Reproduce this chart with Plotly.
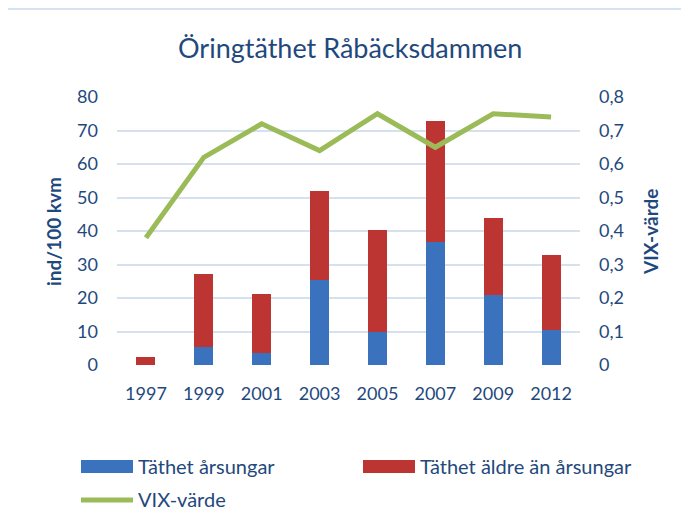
import plotly.graph_objects as go

years = ["1997", "1999", "2001", "2003", "2005", "2007", "2009", "2012"]
arsungar = [0.0, 5.5, 3.7, 25.5, 9.9, 36.8, 21.0, 10.5]
aldre = [2.5, 21.8, 17.6, 26.5, 30.5, 36.1, 23.0, 22.4]
vix = [0.38, 0.62, 0.72, 0.64, 0.75, 0.65, 0.75, 0.74]
left_ticks = [0, 10, 20, 30, 40, 50, 60, 70, 80]
right_ticks = [0, 0.1, 0.2, 0.3, 0.4, 0.5, 0.6, 0.7, 0.8]
right_labels = ["0", "0,1", "0,2", "0,3", "0,4", "0,5", "0,6", "0,7", "0,8"]

BLUE = "#3a72bd"
RED = "#bd3532"
GREEN = "#9bbb59"
TXT = "#1F497D"
GRID = "#d6e1f0"
FONT = "Lato"

OFF = 8  # page body margin
W, H = 689 - 2 * OFF, 511 - OFF
# plot area in screen pixels: x 117..580, y 97..365
L = 117 - OFF
T = 97 - OFF
pw, ph = 463, 268
R = W - L - pw
B = H - T - ph

def px(x):
    return (x - OFF - L) / pw

def py(y):
    return (T + ph - (y - OFF)) / ph

fig = go.Figure()
fig.add_trace(go.Bar(x=years, y=arsungar, name="Täthet årsungar", marker_color=BLUE,
                     marker_line_width=0, showlegend=False))
fig.add_trace(go.Bar(x=years, y=aldre, name="Täthet äldre än årsungar", marker_color=RED,
                     marker_line_width=0, showlegend=False))
fig.add_trace(go.Scatter(x=years, y=vix, name="VIX-värde", yaxis="y2", mode="lines",
                         line=dict(color=GREEN, width=5), showlegend=False))

shapes = [
    dict(type="rect", xref="paper", yref="paper", x0=px(6), x1=px(720), y0=py(9), y1=py(540),
         line=dict(color="#c9d9ee", width=1.5), fillcolor="rgba(0,0,0,0)", layer="below"),
    dict(type="rect", xref="paper", yref="paper", x0=px(81), x1=px(133), y0=py(473), y1=py(460),
         fillcolor=BLUE, line_width=0),
    dict(type="rect", xref="paper", yref="paper", x0=px(363), x1=px(415), y0=py(473), y1=py(460),
         fillcolor=RED, line_width=0),
    dict(type="line", xref="paper", yref="paper", x0=px(81), x1=px(133), y0=py(500), y1=py(500),
         line=dict(color=GREEN, width=5)),
]

ann = [
    dict(text="Öringtäthet Råbäcksdammen", x=px(350), y=py(47), xref="paper", yref="paper",
         showarrow=False, font=dict(size=27, color=TXT, family=FONT), xanchor="center", yanchor="middle"),
    dict(text="<b>ind/100 kvm</b>", x=px(53), y=py(232), xref="paper", yref="paper", textangle=-90,
         showarrow=False, font=dict(size=19, color=TXT, family=FONT), xanchor="center", yanchor="middle"),
    dict(text="<b>VIX-värde</b>", x=px(650), y=py(232), xref="paper", yref="paper", textangle=-90,
         showarrow=False, font=dict(size=19, color=TXT, family=FONT), xanchor="center", yanchor="middle"),
    dict(text="Täthet årsungar", x=px(136), y=py(466), xref="paper", yref="paper",
         showarrow=False, font=dict(size=20, color=TXT, family=FONT), xanchor="left", yanchor="middle"),
    dict(text="Täthet äldre än årsungar", x=px(418), y=py(466), xref="paper", yref="paper",
         showarrow=False, font=dict(size=20, color=TXT, family=FONT), xanchor="left", yanchor="middle"),
    dict(text="VIX-värde", x=px(136), y=py(499), xref="paper", yref="paper",
         showarrow=False, font=dict(size=20, color=TXT, family=FONT), xanchor="left", yanchor="middle"),
]

fig.update_layout(
    width=W, height=H,
    margin=dict(l=L, r=R, t=T, b=B, pad=0),
    barmode="stack", bargap=0.67,
    plot_bgcolor="white", paper_bgcolor="white",
    font=dict(family=FONT, color=TXT, size=18),
    showlegend=False,
    shapes=shapes, annotations=ann,
    xaxis=dict(type="category", showgrid=False, showline=False, ticks="", zeroline=False,
               tickfont=dict(size=18, color=TXT), ticklabelstandoff=16),
    yaxis=dict(range=[0, 80], tickvals=left_ticks, showgrid=True, gridcolor=GRID, gridwidth=1.5,
               zeroline=False, showline=False, tickfont=dict(size=18, color=TXT), ticklabelstandoff=18),
    yaxis2=dict(range=[0, 0.8], tickvals=right_ticks, ticktext=right_labels, overlaying="y",
                side="right", showgrid=False, zeroline=False, showline=False,
                tickfont=dict(size=18, color=TXT), ticklabelstandoff=18),
)

fig.write_html("out.html")
